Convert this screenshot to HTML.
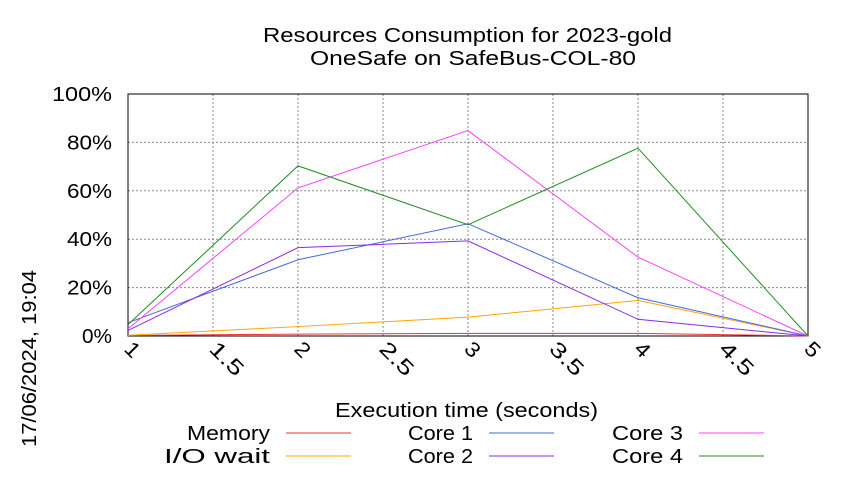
<!DOCTYPE html>
<html><head><meta charset="utf-8"><style>
body{margin:0;background:#fff;}
svg text{font-family:"Liberation Sans",sans-serif;fill:#000;}
</style></head><body>
<svg id="chart" width="850" height="475" xmlns="http://www.w3.org/2000/svg">
<rect width="850" height="475" fill="#fff"/>
<text x="263" y="42" font-size="20" textLength="409" lengthAdjust="spacingAndGlyphs">Resources Consumption for 2023-gold</text>
<text x="310" y="65" font-size="20" textLength="326" lengthAdjust="spacingAndGlyphs">OneSafe on SafeBus-COL-80</text>
<text transform="translate(36,447) rotate(-90)" font-size="20" textLength="177" lengthAdjust="spacingAndGlyphs">17/06/2024, 19:04</text>
<text x="335" y="417" font-size="20" textLength="263" lengthAdjust="spacingAndGlyphs">Execution time (seconds)</text>
<g id="grid"></g><g id="axes"></g><g id="series"></g><g id="legend"></g>
</svg>
<script>
const xValues=[1,2,3,4,5];
const memory=[0.2,0.8,1.1,1.1,0];
const ioWait=[0.3,3.9,7.8,14.7,0];
const core1=[5.5,31.5,46.4,15.8,0];
const core2=[2.3,36.5,39.3,6.9,0];
const core3=[3,61.2,84.9,32.6,0];
const core4=[4.7,70.3,46,77.6,0];
const xTicks=[1,1.5,2,2.5,3,3.5,4,4.5,5];
const yTicks=[0,20,40,60,80,100];
const L=128,R=808,T=94,B=336;
const sx=v=>L+(v-1)/(5-1)*(R-L);
const sy=v=>B-v/100*(B-T);
const NS="http://www.w3.org/2000/svg";
function mk(tag,attrs,parent){const e=document.createElementNS(NS,tag);for(const k in attrs)e.setAttribute(k,attrs[k]);parent.appendChild(e);return e;}
const grid=document.getElementById('grid'),axes=document.getElementById('axes'),ser=document.getElementById('series'),leg=document.getElementById('legend');
yTicks.forEach(v=>{
 const g=mk('line',{x1:L,x2:R,y1:sy(v),y2:sy(v),stroke:'#888','stroke-dasharray':'2,2','stroke-width':1},grid);
 
 
 const s=v+'%';
 const t=mk('text',{x:112,y:sy(v)+7,'font-size':20,'text-anchor':'end',textLength:s.length*15,lengthAdjust:'spacingAndGlyphs'},axes);
 t.textContent=s;
 
 
});
xTicks.forEach(v=>{
 const g=mk('line',{x1:sx(v),x2:sx(v),y1:T,y2:B,stroke:'#888','stroke-dasharray':'2,2','stroke-width':1},grid);
 
 
 const s=String(v);
 const t=mk('text',{transform:`translate(${sx(v)-5},${B+14}) rotate(45)`,'font-size':21,textLength:s.length*13,lengthAdjust:'spacingAndGlyphs'},axes);
 t.textContent=s;
 
 
});
const frame=mk('rect',{x:L,y:T,width:R-L,height:B-T,fill:'none',stroke:'#000','stroke-width':1},axes);


const list=[["Memory",memory,"#f03232",83],["I/O wait",ioWait,"#ffa500",106],["Core 1",core1,"#4169e1",65],["Core 2",core2,"#8a2be2",65],["Core 3",core3,"#ff40ff",71],["Core 4",core4,"#228b22",71]];
list.forEach((s,i)=>{
 const p=mk('polyline',{points:s[1].map((v,j)=>sx(xValues[j])+','+sy(v)).join(' '),fill:'none',stroke:s[2],'stroke-width':1},ser);
 
 
 const col=Math.floor(i/2),row=i%2;
 const lx=[270,473,683][col],ly=row?456:433;
 const t=mk('text',{x:lx-s[3],y:ly+7,'font-size':20,textLength:s[3],lengthAdjust:'spacingAndGlyphs'},leg);
 t.textContent=s[0];
 
 
 const l=mk('line',{x1:lx+16,x2:lx+81,y1:ly,y2:ly,stroke:s[2],'stroke-width':1},leg);
 
 
});
</script>
</body></html>
